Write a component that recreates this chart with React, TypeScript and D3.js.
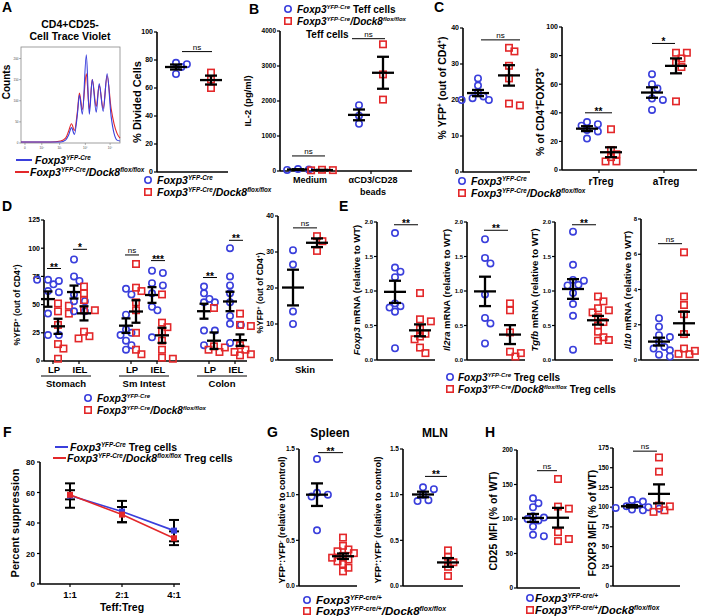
import React from 'react';
import * as d3 from 'd3';

const BLUE = '#3a3fdc';
const RED = '#e3282a';
const FONT = "'Liberation Sans', Arial, Helvetica, sans-serif";

// ---------- A: CTV histogram (channel 0-100, relative counts) ----------
const histChannel = [0, 15, 30, 40, 45, 48, 51, 54, 57, 59, 62, 66, 69, 72, 76, 79, 83, 87, 91, 94, 97, 100];
const histWT = [0.01, 0.01, 0.01, 0.01, 0.03, 0.08, 0.16, 0.09, 0.3, 0.5, 0.3, 0.92, 0.3, 0.66, 0.32, 0.62, 0.33, 0.72, 0.28, 0.1, 0.03, 0.02];
const histKO = [0.01, 0.01, 0.01, 0.02, 0.05, 0.12, 0.2, 0.13, 0.33, 0.52, 0.35, 0.72, 0.35, 0.66, 0.38, 0.6, 0.36, 0.7, 0.36, 0.2, 0.1, 0.05];
const histYTicks = [0, 0.22, 0.44, 0.66, 0.88];
const histYLabels = ['0', '50', '100', '150', '200'];
const histXTicks = [4, 21, 39, 65, 90];
const histXLabels = ['0', '10²', '10³', '10⁴', '10⁵'];

// A: % divided
const aDividedWT = [78, 77, 75, 70];
const aDividedKO = [71, 66, 60];

// B: IL-2
const bCats = ['Medium', 'beads'];
const bMediumWT = [55, 45, 30];
const bMediumKO = [35, 25, 20];
const bBeadsWT = [1880, 1580, 1350];
const bBeadsKO = [3620, 2760, 2040];

// C
const cYfpWT = [26, 24, 22, 21, 20.5, 20, 20];
const cYfpKO = [34.5, 33.5, 29.5, 26, 19, 18.5];
const cTregCats = ['rTreg', 'aTreg'];
const cRTregWT = [33.5, 32, 31, 28, 27, 22];
const cRTregKO = [28.5, 14, 11, 9, 6, 6];
const cATregWT = [67, 60, 57, 50, 49, 42];
const cATregKO = [82, 82, 78, 75, 72, 48];

// D
const dTissues = ['Stomach', 'Sm Intest', 'Colon'];
const dSubs = ['LP', 'IEL'];
const dWT = [
  [72, 71, 72, 68, 62, 61, 42, 23, 23],
  [90, 75, 71, 59, 53, 53, 44, 44],
  [64, 59, 41, 28, 25, 23, 18, 14, 10],
  [80, 78, 69, 67, 60, 48, 45, 21],
  [66, 60, 55, 52, 52, 27, 27, 14],
  [100, 75, 67, 60, 52, 40, 33, 32, 16],
];
const dKO = [
  [51, 49, 44, 42, 32, 15, 11, 2],
  [66, 60, 54, 45, 45, 26, 22, 20],
  [86, 65, 62, 52, 45, 25, 10, 6],
  [59, 34, 30, 26, 18, 10, 3, 2],
  [47, 13, 12, 10, 8],
  [42, 32, 31, 14, 10, 8, 6, 5],
];
const dSig = ['**', '*', 'ns', '***', '**', '**'];
const dSigLevel = [82, 99, 94, 89, 74, 107];
const skinWT = [30.5, 26.5, 13.5, 10];
const skinKO = [34.4, 33, 30.3];

// E
const eFoxp3WT = [1.84, 1.34, 1.28, 1.2, 0.82, 0.78, 0.76, 0.7, 0.17];
const eFoxp3KO = [0.97, 0.59, 0.56, 0.45, 0.38, 0.34, 0.3, 0.18, 0.1];
const eIl2raWT = [1.75, 1.48, 1.4, 0.95, 0.61, 0.53, 0.24];
const eIl2raKO = [0.82, 0.72, 0.4, 0.12, 0.1, 0.05];
const eTgfbWT = [1.86, 1.38, 1.16, 1.15, 1.09, 1.08, 0.97, 0.81, 0.64, 0.15];
const eTgfbKO = [0.92, 0.85, 0.75, 0.72, 0.69, 0.62, 0.55, 0.5, 0.41, 0.33, 0.28, 0.29];
const eIl10WT = [2.37, 1.89, 1.41, 1.3, 1.03, 0.74, 0.65, 0.55, 0.3, 0.2];
const eIl10KO = [6.11, 3.6, 3.12, 2.6, 1.47, 0.65, 0.52, 0.33, 0.35];

// F
const fRatios = ['1:1', '2:1', '4:1'];
const fWTMean = [58, 47.5, 35];
const fWTSem = [8, 7, 7];
const fKOMean = [58.5, 45.5, 30];
const fKOSem = [3, 5, 4.5];

// G
const gSpleenWT = [1.39, 1.02, 1.0, 0.98, 0.61];
const gSpleenKO = [0.53, 0.44, 0.4, 0.38, 0.36, 0.33, 0.31, 0.29, 0.27, 0.24, 0.2, 0.16];
const gMlnWT = [1.08, 1.06, 1.0, 0.94, 0.93];
const gMlnKO = [0.39, 0.32, 0.26, 0.21, 0.11];

// H
const hCd25WT = [130, 123, 117, 104, 102, 100, 98, 89, 77, 75];
const hCd25KO = [158, 118, 115, 81, 68, 71];
const hFoxp3WT = [109, 107, 103, 101, 100, 99, 98, 97, 96];
const hFoxp3KO = [163, 145, 102, 101, 96, 94];

type Seg = [string, string?];

const WT_CRE: Seg[] = [['Foxp3', 'i'], ['YFP-Cre', 'is']];
const KO_CRE: Seg[] = [['Foxp3', 'i'], ['YFP-Cre', 'is'], ['/Dock8', 'i'], ['flox/flox', 'is']];
const WT_CREP: Seg[] = [['Foxp3', 'i'], ['YFP-cre/+', 'is']];
const KO_CREP: Seg[] = [['Foxp3', 'i'], ['YFP-cre/+', 'is'], ['/Dock8', 'i'], ['flox/flox', 'is']];

function Rich({ segs, x = 0, y = 0, size, anchor = 'start', transform }: {
  segs: Seg[]; x?: number; y?: number; size: number; anchor?: string; transform?: string;
}) {
  let prevSup = false;
  return (
    <text x={x} y={y} fontSize={size} fontWeight="bold" textAnchor={anchor} transform={transform}>
      {segs.map(([t, f = ''], i) => {
        const sup = f.includes('s');
        let dy = 0;
        if (sup && !prevSup) dy = -size * 0.38;
        if (!sup && prevSup) dy = size * 0.38;
        prevSup = sup;
        return (
          <tspan key={i} dy={dy || undefined} fontStyle={f.includes('i') ? 'italic' : undefined}
            fontSize={sup ? size * 0.6 : undefined}>{t}</tspan>
        );
      })}
    </text>
  );
}

function Mark({ x, y, ko, r = 3.2 }: { x: number; y: number; ko: boolean; r?: number }) {
  return ko
    ? <rect x={x - r} y={y - r} width={2 * r} height={2 * r} fill="none" stroke={RED} strokeWidth={1.6} />
    : <circle cx={x} cy={y} r={r} fill="none" stroke={BLUE} strokeWidth={1.6} />;
}

function Legend({ x, y, wt, ko, size = 10, gap = 12, tx = 9 }: {
  x: number; y: number; wt: Seg[]; ko: Seg[]; size?: number; gap?: number; tx?: number;
}) {
  return (
    <g>
      <Mark x={x} y={y} ko={false} />
      <Rich segs={wt} x={x + tx} y={y + 4} size={size} />
      <Mark x={x} y={y + gap} ko={true} />
      <Rich segs={ko} x={x + tx} y={y + gap + 4} size={size} />
    </g>
  );
}

function swarm(values: number[], y: (v: number) => number, r: number) {
  const placed: { py: number; dx: number }[] = [];
  const cands = [0];
  for (let i = 1; i < 8; i++) cands.push(i * r * 1.7, -i * r * 1.7);
  return values.map(v => {
    const py = y(v);
    for (const dx of cands) {
      if (placed.every(p => Math.hypot(p.dx - dx, p.py - py) >= r * 1.9)) {
        placed.push({ py, dx });
        return { py, dx };
      }
    }
    placed.push({ py, dx: 0 });
    return { py, dx: 0 };
  });
}

function Dots({ x, values, ko, y, meanW = 11, capW = 6 }: {
  x: number; values: number[]; ko: boolean; y: d3.ScaleLinear<number, number>; meanW?: number; capW?: number;
}) {
  const r = 3.2;
  const pts = swarm(values, y, r);
  const m = d3.mean(values)!;
  const sem = d3.deviation(values)! / Math.sqrt(values.length);
  return (
    <g>
      {pts.map((p, i) => <Mark key={i} x={x + p.dx} y={p.py} ko={ko} r={r} />)}
      <g stroke="#000" strokeWidth={2.3}>
        <line x1={x - meanW} x2={x + meanW} y1={y(m)} y2={y(m)} />
        <line x1={x} x2={x} y1={y(m + sem)} y2={y(m - sem)} />
        <line x1={x - capW} x2={x + capW} y1={y(m + sem)} y2={y(m + sem)} />
        <line x1={x - capW} x2={x + capW} y1={y(m - sem)} y2={y(m - sem)} />
      </g>
    </g>
  );
}

function Bracket({ x1, x2, y, text }: { x1: number; x2: number; y: number; text: string }) {
  const ns = text === 'ns';
  return (
    <g>
      <line x1={x1} x2={x2} y1={y} y2={y} stroke="#000" strokeWidth={1} />
      <text x={(x1 + x2) / 2} y={ns ? y - 2 : y + 2} textAnchor="middle" fontSize={ns ? 8 : 10}
        fontWeight={ns ? 'normal' : 'bold'}>{text}</text>
    </g>
  );
}

type Grp = { x: number; values: number[]; ko: boolean };
type Br = { x1: number; x2: number; v: number; text: string };

function Scatter(p: {
  ax: number; right: number; y0: number; y1: number; domain: [number, number]; ticks: number[];
  fmt?: (v: number) => string; groups: Grp[]; brackets: Br[]; label: Seg[]; labelX: number;
  labelY?: number; labelSize: number; catTicks?: number[]; meanW?: number; capW?: number; tickSize?: number;
}) {
  const y = d3.scaleLinear().domain(p.domain).range([p.y0, p.y1]);
  const fmt = p.fmt ?? d3.format('d');
  const ly = p.labelY ?? (p.y0 + p.y1) / 2;
  const ts = p.tickSize ?? 7;
  return (
    <g>
      <line x1={p.ax} x2={p.ax} y1={p.y0} y2={p.y1} stroke="#000" strokeWidth={1.6} />
      <line x1={p.ax} x2={p.right} y1={p.y0} y2={p.y0} stroke="#000" strokeWidth={1.6} />
      {p.ticks.map(t => (
        <g key={t}>
          <line x1={p.ax - 3} x2={p.ax} y1={y(t)} y2={y(t)} stroke="#000" strokeWidth={1.2} />
          <text x={p.ax - 4} y={y(t) + ts * 0.35} fontSize={ts} fontWeight="bold" textAnchor="end">{fmt(t)}</text>
        </g>
      ))}
      {(p.catTicks ?? []).map((c, i) => (
        <line key={i} x1={c} x2={c} y1={p.y0} y2={p.y0 + 3} stroke="#000" strokeWidth={1.2} />
      ))}
      <Rich segs={p.label} size={p.labelSize} anchor="middle"
        transform={`translate(${p.labelX + p.labelSize * 0.35},${ly}) rotate(-90)`} />
      {p.groups.map((g, i) => (
        <Dots key={i} x={g.x} values={g.values} ko={g.ko} y={y} meanW={p.meanW} capW={p.capW} />
      ))}
      {p.brackets.map((b, i) => <Bracket key={i} x1={b.x1} x2={b.x2} y={y(b.v)} text={b.text} />)}
    </g>
  );
}

function Letter({ x, y, t }: { x: number; y: number; t: string }) {
  return <text x={x} y={y} fontSize={14} fontWeight="bold">{t}</text>;
}

function PanelA() {
  const xh = d3.scaleLinear().domain([0, 100]).range([21, 120]);
  const yh = d3.scaleLinear().domain([0, 1]).range([143, 47]);
  const line = d3.line<number>().x((_, i) => xh(histChannel[i])).y(d => yh(d)).curve(d3.curveMonotoneX);
  const xs = d3.scalePoint<string>().domain(['wt', 'ko']).range([176, 211]);
  return (
    <g>
      <Letter x={2} y={12} t="A" />
      <text x={70} y={28} fontSize={10.5} fontWeight="bold" textAnchor="middle">CD4+CD25-</text>
      <text x={70} y={40} fontSize={10.5} fontWeight="bold" textAnchor="middle">Cell Trace Violet</text>
      <text transform="translate(10,82) rotate(-90)" fontSize={10} fontWeight="bold" textAnchor="middle">Counts</text>
      <rect x={21} y={47} width={99} height={96} fill="none" stroke="#888" strokeWidth={0.8} />
      {histYTicks.map((t, i) => (
        <g key={t}>
          <line x1={19} x2={21} y1={yh(t)} y2={yh(t)} stroke="#666" strokeWidth={0.5} />
          <text x={18.5} y={yh(t) + 1} fontSize={3} textAnchor="end" fill="#444">{histYLabels[i]}</text>
        </g>
      ))}
      {histXTicks.map((t, i) => (
        <g key={t}>
          <line x1={xh(t)} x2={xh(t)} y1={143} y2={145} stroke="#666" strokeWidth={0.5} />
          <text x={xh(t)} y={148.5} fontSize={3} textAnchor="middle" fill="#444">{histXLabels[i]}</text>
        </g>
      ))}
      <path d={line(histKO)!} fill="none" stroke={RED} strokeWidth={1.1} />
      <path d={line(histWT)!} fill="none" stroke={BLUE} strokeWidth={1.1} />
      <line x1={16} x2={32} y1={160} y2={160} stroke={BLUE} strokeWidth={2} />
      <Rich segs={WT_CRE} x={35} y={164} size={10.5} />
      <line x1={15} x2={29} y1={172} y2={172} stroke={RED} strokeWidth={2} />
      <Rich segs={KO_CRE} x={30} y={176} size={10.5} />
      <Scatter ax={157} right={228} y0={172} y1={32} domain={[0, 100]} ticks={[0, 20, 40, 60, 80, 100]}
        groups={[{ x: xs('wt')!, values: aDividedWT, ko: false }, { x: xs('ko')!, values: aDividedKO, ko: true }]}
        brackets={[{ x1: 182, x2: 212, v: 86, text: 'ns' }]}
        label={[['% Divided Cells']]} labelX={137} labelSize={11} />
      <Legend x={148} y={180} wt={WT_CRE} ko={KO_CRE} size={10.5} />
    </g>
  );
}

function PanelB() {
  const xc = d3.scalePoint<string>().domain(bCats).range([310, 371]);
  const off = 12;
  return (
    <g>
      <Letter x={249} y={14} t="B" />
      <Mark x={288} y={9} ko={false} />
      <Rich segs={[...WT_CRE, [' Teff cells']]} x={297} y={13} size={10} />
      <Mark x={288} y={21} ko={true} />
      <Rich segs={KO_CRE} x={297} y={25} size={10} />
      <text x={306} y={38} fontSize={10} fontWeight="bold">Teff cells</text>
      <Scatter ax={280} right={412} y0={171} y1={31} domain={[0, 4000]} ticks={[0, 1000, 2000, 3000, 4000]}
        groups={[
          { x: xc('Medium')! - off, values: bMediumWT, ko: false },
          { x: xc('Medium')! + off, values: bMediumKO, ko: true },
          { x: xc('beads')! - off, values: bBeadsWT, ko: false },
          { x: xc('beads')! + off, values: bBeadsKO, ko: true },
        ]}
        brackets={[
          { x1: xc('Medium')! - 18, x2: xc('Medium')! + 15, v: 430, text: 'ns' },
          { x1: xc('beads')! - 19, x2: xc('beads')! + 14, v: 3780, text: 'ns' },
        ]}
        catTicks={[xc('Medium')!, xc('beads')!]}
        label={[['IL-2 (pg/ml)']]} labelX={248} labelSize={9.5} tickSize={6.5} />
      <text x={xc('Medium')!} y={183} fontSize={9} fontWeight="bold" textAnchor="middle">Medium</text>
      <text x={xc('beads')! + 2} y={183} fontSize={9} fontWeight="bold" textAnchor="middle">αCD3/CD28</text>
      <text x={xc('beads')! + 2} y={195} fontSize={9} fontWeight="bold" textAnchor="middle">beads</text>
    </g>
  );
}

function PanelC() {
  const xs = d3.scalePoint<string>().domain(['wt', 'ko']).range([478, 509]);
  const xt = d3.scalePoint<string>().domain(cTregCats).range([599, 664]);
  const off = 12;
  return (
    <g>
      <Letter x={434} y={12} t="C" />
      <Scatter ax={463} right={530} y0={172} y1={28} domain={[0, 40]} ticks={[0, 10, 20, 30, 40]}
        groups={[{ x: xs('wt')!, values: cYfpWT, ko: false }, { x: xs('ko')!, values: cYfpKO, ko: true }]}
        brackets={[{ x1: xs('wt')! + 3, x2: xs('ko')! + 11, v: 36.7, text: 'ns' }]}
        label={[['% YFP'], ['+', 's'], [' (out of CD4'], ['+', 's'], [')']]} labelX={442} labelY={88} labelSize={10.5} />
      <Scatter ax={562} right={697} y0={170} y1={27} domain={[0, 100]} ticks={[0, 20, 40, 60, 80, 100]}
        groups={[
          { x: xt('rTreg')! - off, values: cRTregWT, ko: false },
          { x: xt('rTreg')! + off, values: cRTregKO, ko: true },
          { x: xt('aTreg')! - off, values: cATregWT, ko: false },
          { x: xt('aTreg')! + off, values: cATregKO, ko: true },
        ]}
        brackets={[
          { x1: xt('rTreg')! - 14, x2: xt('rTreg')! + 13, v: 40, text: '**' },
          { x1: xt('aTreg')! - 12, x2: xt('aTreg')! + 11, v: 88.5, text: '*' },
        ]}
        catTicks={[xt('rTreg')!, xt('aTreg')!]}
        label={[['% of CD4'], ['+', 's'], ['FOXP3'], ['+', 's']]} labelX={540} labelY={112} labelSize={10.5} />
      {cTregCats.map(c => (
        <text key={c} x={xt(c)! + 2} y={185} fontSize={10} fontWeight="bold" textAnchor="middle">{c}</text>
      ))}
      <Legend x={462} y={181} wt={WT_CRE} ko={KO_CRE} size={10.5} />
    </g>
  );
}

function PanelD() {
  const idx = [0, 1, 3, 4, 6, 7];
  const xd = d3.scaleLinear().domain([0, 7]).range([53, 235]);
  const off = 5;
  const groups: Grp[] = [];
  idx.forEach((v, i) => {
    groups.push({ x: xd(v) - off, values: dWT[i], ko: false });
    groups.push({ x: xd(v) + off, values: dKO[i], ko: true });
  });
  const xsk = d3.scalePoint<string>().domain(['wt', 'ko']).range([293, 317]);
  return (
    <g>
      <Letter x={2} y={211} t="D" />
      <Scatter ax={44} right={247} y0={361} y1={220} domain={[0, 125]} ticks={[0, 25, 50, 75, 100, 125]}
        groups={groups} meanW={7} capW={4.5}
        brackets={idx.map((v, i) => ({ x1: xd(v) - 6, x2: xd(v) + 8, v: dSigLevel[i], text: dSig[i] }))}
        catTicks={idx.map(v => xd(v))}
        label={[['%YFP'], ['+', 's'], [' (out of CD4'], ['+', 's'], [')']]} labelX={17} labelY={305} labelSize={8.5} />
      {idx.map((v, i) => (
        <text key={i} x={xd(v) + 1} y={373} fontSize={9.5} fontWeight="bold" textAnchor="middle">{dSubs[i % 2]}</text>
      ))}
      {dTissues.map((t, i) => {
        const a = xd(idx[i * 2]) - 12;
        const b = xd(idx[i * 2 + 1]) + 12;
        return (
          <g key={t}>
            <line x1={a} x2={b} y1={376} y2={376} stroke="#000" strokeWidth={1} />
            <text x={(a + b) / 2} y={387} fontSize={9.5} fontWeight="bold" textAnchor="middle">{t}</text>
          </g>
        );
      })}
      <Legend x={88} y={398} wt={WT_CRE} ko={KO_CRE} size={10} />
      <Scatter ax={278} right={333} y0={360} y1={216} domain={[0, 40]} ticks={[0, 10, 20, 30, 40]}
        groups={[{ x: xsk('wt')!, values: skinWT, ko: false }, { x: xsk('ko')!, values: skinKO, ko: true }]}
        brackets={[{ x1: 293, x2: 317, v: 36.7, text: 'ns' }]}
        label={[['%YFP'], ['+', 's'], [' (out of CD4'], ['+', 's'], [')']]} labelX={260} labelY={293} labelSize={8.5} />
      <text x={305} y={373} fontSize={9.5} fontWeight="bold" textAnchor="middle">Skin</text>
    </g>
  );
}

function PanelE() {
  const panels = [
    { ax: 377, wt: eFoxp3WT, ko: eFoxp3KO, dom: [0, 2] as [number, number], ticks: [0, 0.5, 1, 1.5, 2], gene: 'Foxp3', sig: '**', v: 1.96 },
    { ax: 467, wt: eIl2raWT, ko: eIl2raKO, dom: [0, 2] as [number, number], ticks: [0, 0.5, 1, 1.5, 2], gene: 'Il2ra', sig: '**', v: 1.88 },
    { ax: 555, wt: eTgfbWT, ko: eTgfbKO, dom: [0, 2] as [number, number], ticks: [0, 0.5, 1, 1.5, 2], gene: 'Tgfb', sig: '**', v: 1.96 },
    { ax: 641, wt: eIl10WT, ko: eIl10KO, dom: [0, 8] as [number, number], ticks: [0, 2, 4, 6, 8], gene: 'Il10', sig: 'ns', v: 6.6 },
  ];
  return (
    <g>
      <Letter x={339} y={211} t="E" />
      {panels.map((p, i) => {
        const xs = d3.scalePoint<string>().domain(['wt', 'ko']).range([p.ax + 18, p.ax + 43]);
        const last = i === 3;
        return (
          <Scatter key={p.gene} ax={p.ax} right={p.ax + 58} y0={360} y1={last ? 219 : 222} domain={p.dom} ticks={p.ticks}
            fmt={last ? d3.format('d') : d3.format('.1f')} tickSize={6}
            groups={[{ x: xs('wt')!, values: p.wt, ko: false }, { x: xs('ko')!, values: p.ko, ko: true }]}
            brackets={[{ x1: xs('wt')! - 1, x2: xs('ko')! - 2, v: p.v, text: p.sig }]}
            label={[[p.gene, 'i'], [' mRNA (relative to WT)']]} labelX={p.ax - (last ? 13 : 20)} labelY={290} labelSize={9.5} />
        );
      })}
      <Mark x={450} y={377} ko={false} />
      <Rich segs={[...WT_CRE, [' Treg cells']]} x={458} y={381} size={10} />
      <Mark x={450} y={389} ko={true} />
      <Rich segs={[...KO_CRE, [' Treg cells']]} x={458} y={393} size={10} />
    </g>
  );
}

function PanelF() {
  const x = d3.scalePoint<string>().domain(fRatios).range([70, 174]);
  const y = d3.scaleLinear().domain([0, 80]).range([584, 462]);
  const line = d3.line<number>().x((_, i) => x(fRatios[i])!).y(d => y(d));
  const bars = (means: number[], sems: number[]) => means.map((m, i) => {
    const cx = x(fRatios[i])!;
    return (
      <g key={i} stroke="#000" strokeWidth={2}>
        <line x1={cx} x2={cx} y1={y(m + sems[i])} y2={y(m - sems[i])} />
        <line x1={cx - 5} x2={cx + 5} y1={y(m + sems[i])} y2={y(m + sems[i])} />
        <line x1={cx - 5} x2={cx + 5} y1={y(m - sems[i])} y2={y(m - sems[i])} />
      </g>
    );
  });
  return (
    <g>
      <Letter x={3} y={437} t="F" />
      <line x1={55} x2={68} y1={447} y2={447} stroke={BLUE} strokeWidth={2} />
      <Rich segs={[...WT_CRE, [' Treg cells']]} x={70} y={451} size={10.5} />
      <line x1={53} x2={66} y1={458} y2={458} stroke={RED} strokeWidth={2} />
      <Rich segs={[...KO_CRE, [' Treg cells']]} x={67} y={462} size={10.5} />
      <line x1={40} x2={40} y1={584} y2={462} stroke="#000" strokeWidth={1.6} />
      <line x1={40} x2={180} y1={584} y2={584} stroke="#000" strokeWidth={1.6} />
      {[0, 20, 40, 60, 80].map(t => (
        <g key={t}>
          <line x1={37} x2={40} y1={y(t)} y2={y(t)} stroke="#000" strokeWidth={1.2} />
          <text x={35} y={y(t) + 3} fontSize={8} fontWeight="bold" textAnchor="end">{t}</text>
        </g>
      ))}
      {fRatios.map(r => (
        <g key={r}>
          <line x1={x(r)!} x2={x(r)!} y1={584} y2={587} stroke="#000" strokeWidth={1.2} />
          <text x={x(r)!} y={598} fontSize={9.5} fontWeight="bold" textAnchor="middle">{r}</text>
        </g>
      ))}
      <text x={122} y={611} fontSize={10.5} fontWeight="bold" textAnchor="middle">Teff:Treg</text>
      <text transform="translate(19,523) rotate(-90)" fontSize={11} fontWeight="bold" textAnchor="middle">Percent suppression</text>
      {bars(fWTMean, fWTSem)}
      {bars(fKOMean, fKOSem)}
      <path d={line(fWTMean)!} fill="none" stroke={BLUE} strokeWidth={1.6} />
      <path d={line(fKOMean)!} fill="none" stroke={RED} strokeWidth={1.6} />
      {fWTMean.map((m, i) => <rect key={'b' + i} x={x(fRatios[i])! - 3} y={y(m) - 3} width={6} height={6} fill={BLUE} />)}
      {fKOMean.map((m, i) => <rect key={'r' + i} x={x(fRatios[i])! - 3} y={y(m) - 3} width={6} height={6} fill={RED} />)}
    </g>
  );
}

function PanelG() {
  const s1 = d3.scalePoint<string>().domain(['wt', 'ko']).range([317, 343]);
  const s2 = d3.scalePoint<string>().domain(['wt', 'ko']).range([423, 448]);
  const lab: Seg[] = [['YFP'], ['+', 's'], [':YFP'], ['-', 's'], [' (relative to control)']];
  return (
    <g>
      <Letter x={267} y={437} t="G" />
      <text x={330} y={437} fontSize={12} fontWeight="bold" textAnchor="middle">Spleen</text>
      <text x={435} y={437} fontSize={12} fontWeight="bold" textAnchor="middle">MLN</text>
      <Scatter ax={299} right={357} y0={586} y1={449} domain={[0, 1.5]} ticks={[0, 0.5, 1, 1.5]} fmt={d3.format('.1f')}
        tickSize={6.5}
        groups={[{ x: s1('wt')!, values: gSpleenWT, ko: false }, { x: s1('ko')!, values: gSpleenKO, ko: true }]}
        brackets={[{ x1: 318, x2: 343, v: 1.46, text: '**' }]}
        label={lab} labelX={282} labelY={520} labelSize={9} />
      <Scatter ax={403} right={463} y0={586} y1={449} domain={[0, 1.5]} ticks={[0, 0.5, 1, 1.5]} fmt={d3.format('.1f')}
        tickSize={6.5}
        groups={[{ x: s2('wt')!, values: gMlnWT, ko: false }, { x: s2('ko')!, values: gMlnKO, ko: true }]}
        brackets={[{ x1: 425, x2: 447, v: 1.2, text: '**' }]}
        label={lab} labelX={378} labelY={520} labelSize={9} />
      <Legend x={307} y={600} wt={WT_CREP} ko={KO_CREP} size={11.5} gap={11} />
    </g>
  );
}

function PanelH() {
  const s1 = d3.scalePoint<string>().domain(['wt', 'ko']).range([533, 558]);
  const s2 = d3.scalePoint<string>().domain(['wt', 'ko']).range([632, 659]);
  return (
    <g>
      <Letter x={485} y={437} t="H" />
      <Scatter ax={517} right={580} y0={588} y1={450} domain={[0, 200]} ticks={[0, 50, 100, 150, 200]} tickSize={6.5}
        groups={[{ x: s1('wt')!, values: hCd25WT, ko: false }, { x: s1('ko')!, values: hCd25KO, ko: true }]}
        brackets={[{ x1: 537, x2: 557, v: 170, text: 'ns' }]}
        label={[['CD25 MFI (% of WT)']]} labelX={493} labelY={521} labelSize={10.5} />
      <Scatter ax={613} right={680} y0={586} y1={448} domain={[0, 175]} ticks={[0, 25, 50, 75, 100, 125, 150, 175]}
        tickSize={6.5}
        groups={[{ x: s2('wt')!, values: hFoxp3WT, ko: false }, { x: s2('ko')!, values: hFoxp3KO, ko: true }]}
        brackets={[{ x1: 633, x2: 657, v: 171, text: 'ns' }]}
        label={[['FOXP3 MFI (% of WT)']]} labelX={592} labelY={523} labelSize={10.5} />
      <Legend x={530} y={598} wt={WT_CREP} ko={KO_CREP} size={11} gap={12} tx={5} />
    </g>
  );
}

export default function App() {
  return (
    <svg width={702} height={616} viewBox="0 0 702 616"
      style={{ position: 'absolute', left: 0, top: 0, background: '#fff', fontFamily: FONT }}>
      <rect width={702} height={616} fill="#fff" />
      <PanelA />
      <PanelB />
      <PanelC />
      <PanelD />
      <PanelE />
      <PanelF />
      <PanelG />
      <PanelH />
    </svg>
  );
}
